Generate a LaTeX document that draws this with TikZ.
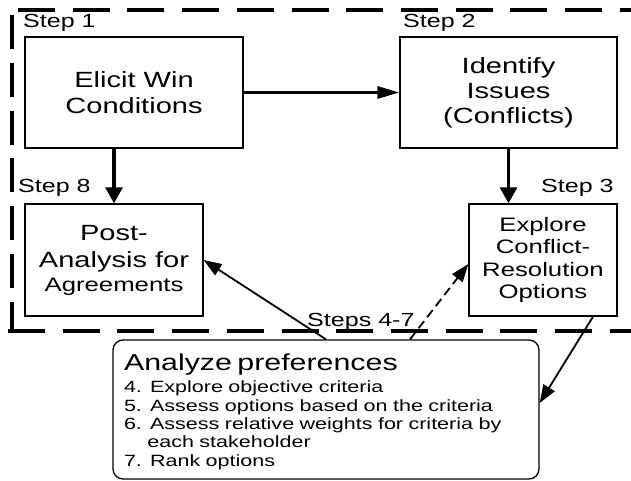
\documentclass[tikz,border=0pt]{standalone}
\usepackage{fontspec}
\setmainfont{Liberation Sans}[FakeStretch=1.32]
\usetikzlibrary{arrows.meta,calc}

\begin{document}
\begin{tikzpicture}[x=1pt,y=-1pt,
  box/.style={draw,line width=1.3pt,inner sep=0pt,align=center},
  steplabel/.style={anchor=base west,inner sep=0pt,font=\fontsize{19}{22}\selectfont},
  frameline/.style={line width=3.4pt},
  heavy/.style={line width=3.2pt},
  light/.style={line width=1.8pt,-{Triangle[length=18pt,width=13pt]}}]

\useasboundingbox (0,0) rectangle (631,481);

% dashed boundary of the negotiation loop
\coordinate (ftl) at (18,10);
\coordinate (ftr) at (631,10);
\coordinate (flt) at (12,15);
\coordinate (flb) at (12,331);
\coordinate (fbl) at (8,331);
\coordinate (fbr) at (631,331);
\draw[frameline,dash pattern=on 37pt off 17.7pt] (ftl) -- (ftr);
\draw[frameline,dash pattern=on 34pt off 13.8pt] (flt) -- (flb);
\draw[frameline,dash pattern=on 37pt off 17.7pt] (fbl) -- (fbr);

% step boxes
\node[box,minimum width=218pt,minimum height=111pt,font=\fontsize{22}{26}\selectfont]
  (e1) at (134,92.5) {Elicit Win\\Conditions};
\node[box,minimum width=217pt,minimum height=111pt,font=\fontsize{22}{25}\selectfont]
  (i2) at (508.5,92.5) {Identify\\Issues\\(Conflicts)};
\node[box,minimum width=178pt,minimum height=112pt,font=\fontsize{22}{27}\selectfont]
  (p8) at (114,260) {Post-\\Analysis for\\[-3pt]{\fontsize{19.5}{24}\selectfont Agreements}};
\node[box,minimum width=148pt,minimum height=112pt,font=\fontsize{19.5}{22.5}\selectfont]
  (c3) at (543,260) {Explore\\Conflict-\\Resolution\\Options};

% preference analysis box
\node[draw,line width=1.3pt,rounded corners=10pt,inner sep=0pt,
      minimum width=426pt,minimum height=139pt,text width=404pt,align=left,
      font=\fontsize{16.3}{18.3}\selectfont]
  (prefs) at (326,409.5)
  {\rule{0pt}{21.5pt}{\fontsize{23}{26}\selectfont Analyze preferences}\\[3.7pt]
   4. Explore objective criteria\\
   5. Assess options based on the criteria\\
   6. Assess relative weights for criteria by\\
   \hphantom{6.\ }each stakeholder\\
   7. Rank options};

% step labels
\node[steplabel] (s1) at (23,28) {Step 1};
\node[steplabel] (s2) at (403,28) {Step 2};
\node[steplabel] (s8) at (18,193) {Step 8};
\node[steplabel] (s3) at (541,193) {Step 3};
\node[steplabel] (s47) at (307,326) {Steps 4-7};

% connectors
\draw[heavy,-{Triangle[length=22pt,width=12pt]}] (e1) -- (i2);
\draw[heavy,-{Triangle[length=16pt,width=17pt]}] (e1.south -| p8.north) -- (p8.north);
\draw[heavy,-{Triangle[length=16pt,width=17pt]}] (i2.south) -- (i2.south |- c3.north);
\draw[light] (prefs.north) -- (p8.east);
\draw[light,dash pattern=on 9pt off 5pt] ([xshift=84pt]prefs.north) -- ([yshift=-4pt]c3.west);
\draw[light] ([xshift=50pt]c3.south) -- ([yshift=6.5pt]prefs.east);
\end{tikzpicture}
\end{document}
